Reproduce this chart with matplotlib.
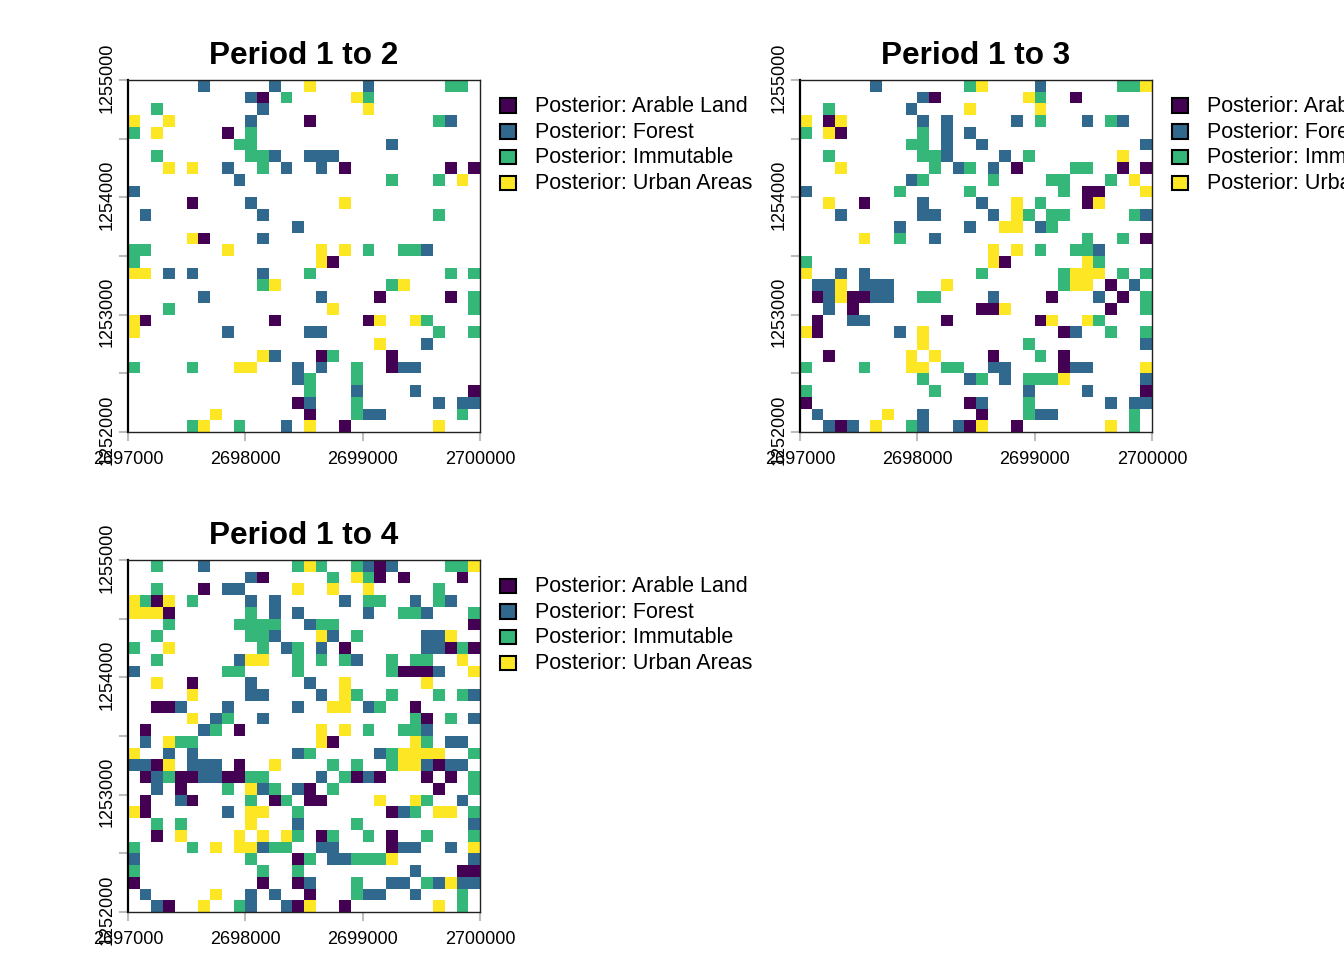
import numpy as np
import matplotlib
matplotlib.use("Agg")
import matplotlib.pyplot as plt
from matplotlib.colors import ListedColormap
from matplotlib.patches import Rectangle
from matplotlib.transforms import ScaledTranslation

plt.rcParams['font.family'] = ['Liberation Sans', 'DejaVu Sans']

classes = ["Arable Land", "Forest", "Immutable", "Urban Areas"]
codes = "AFIU"
colors = ["#440154", "#31688E", "#35B779", "#FDE725"]
titles = ["Period 1 to 2", "Period 1 to 3", "Period 1 to 4"]
x_ticks = [2697000, 2698000, 2699000, 2700000]
y_ticks = [1252000, 1252500, 1253000, 1253500, 1254000, 1254500, 1255000]
y_labels = ["1252000", "", "1253000", "", "1254000", "", "1255000"]

# one string per raster row from the top, "<column><class>" for each changed cell
period_2 = [
    "6F 12F 15U 20F 27I 28I",
    "10F 11A 13I 19U 20I",
    "2I 11F 20U",
    "0U 3U 10F 15A 26I 27F",
    "0I 2U 8A 10I",
    "9I 10I 22F",
    "2I 10I 11I 12F 15F 16F 17F",
    "3U 5U 8F 11I 13F 16F 18A 27A 29A",
    "9F 22I 26I 28U",
    "0F",
    "5A 10F 18U",
    "1F 11F 26I",
    "14F",
    "5U 6A 11F",
    "0I 1I 8U 16U 18U 20I 23I 24I 25F",
    "0I 16U 17A",
    "0U 1U 3F 5F 11F 15I 27I 29I",
    "11I 12U 22I 23U",
    "6F 16F 21A 27A 29I",
    "3I 17U 29I",
    "0U 1A 12A 20A 21U 24U 25I",
    "0U 8F 15F 16F 26I 29I",
    "21U 25F",
    "11U 12F 16A 17I 22A",
    "0I 5I 9U 10U 14F 16F 19I 22A 23F 24F",
    "14F 15I 19I",
    "15I 19F 24F 29A",
    "14A 15F 19I 26F 28F 29F",
    "7U 15A 19I 20F 21F 28I",
    "5I 6U 9I 13F 15U 18A 26U",
]
period_3 = [
    "6F 14I 15U 20F 27I 28I 29U",
    "10F 11A 19U 20I 23A",
    "2I 9F 14U 20U",
    "0U 2A 3U 10F 12F 18F 20I 24F 26I 27F",
    "0I 2U 3A 10I 12F 14F",
    "9I 10I 12F 15F 29F",
    "2I 10I 11I 12F 17F 19I 27U",
    "3U 11I 13F 14I 16F 18A 23I 24I 27A 29A",
    "9F 10I 16I 21I 22I 26I 28U",
    "0F 8I 14I 22I 24A 25A 29U",
    "2U 5A 10F 15F 18U 20I 24A 25U",
    "3F 10F 11F 16F 18U 19I 21I 22I 28I 29F",
    "8F 14F 17U 18U 20F 21I",
    "5U 8I 11F 24I 27I 29A",
    "16U 18U 20I 23I 24I 25F",
    "0I 16U 17A 24U 25I",
    "0U 3F 5F 15I 22I 23U 24U 25U 27I 29I",
    "1F 2F 3U 5F 6F 7F 12U 22I 23U 24U 26A 28F",
    "1A 2F 3U 4A 5A 6F 7F 10I 11I 16F 21A 25F 27A 29I",
    "2F 4A 15A 16A 17U 26A 29I",
    "1A 4F 5F 12A 20A 21U 24U 25I",
    "0U 1A 8F 10U 22A 23F 26I 29I",
    "10U 19I 29F",
    "2A 9U 11U 16A 20I 22A",
    "0I 5I 9U 10U 12I 13I 16F 17F 22A 23F 24F 29U",
    "10I 14F 15I 17F 19I 20I 21I 22U 29F",
    "0I 11I 19F 24F 29A",
    "0A 14A 15F 19I 26F 28F 29F",
    "1F 7U 10F 15A 19I 20F 21F 28I",
    "2F 3A 4F 6U 9I 10F 13F 14A 15U 18A 26U 28I",
]
period_4 = [
    "2I 6F 14I 15U 16I 19I 20F 21A 22F 27I 28I 29U",
    "10F 11A 17I 19U 20I 21A 23A 28A",
    "2I 6A 8F 9F 14U 17U 20U 26I",
    "0U 1I 2A 3U 5I 10F 12F 18F 20I 21I 24F 26I 27F",
    "0U 1U 2U 3A 10I 12F 14F 20F 23I 24I 25F 29I",
    "3I 9I 10I 11I 12I 15F 16I 17I 29A",
    "2I 10I 11I 12F 16U 17F 19I 25F 26F 27U",
    "0I 3U 11I 13F 14I 16F 18A 25F 26F 27A 28I 29A",
    "2I 9F 10U 11U 14I 16I 18I 19F 22I 24I 25I 28U",
    "0F 8I 9I 14I 22I 23A 24A 25A 26F 29U",
    "2U 5A 10F 15F 18U 25U",
    "5U 10F 11F 16F 18U 19I 22I 26I 28I 29F",
    "2A 3A 4F 8F 14F 17U 18U 20F 21I 24A",
    "5U 7F 8I 11F 24I 25A 27I 29F",
    "1A 6F 7I 9A 16U 18U 20I 23I 24I 25F",
    "1F 3U 4I 5I 16U 17A 24U 25I 27F 28F",
    "0U 3F 5F 14F 15I 21F 22I 23U 24U 25U 26U 29I",
    "0F 1F 2A 3U 5F 6F 7F 9A 12U 17I 19I 22I 23U 24U 25F 26A 27F 28F",
    "1A 2F 3I 4A 5A 6F 7F 8A 9A 10I 11I 16F 18I 19A 20F 21A 25A 27A 29I",
    "2F 4A 8I 10U 11F 12I 14F 15A 17I 26A 29I",
    "1A 4F 5A 10I 12A 13I 15A 16A 21U 24U 25I 28F",
    "0U 1A 8F 10U 11U 14I 22A 23F 24I 26U 27U 29I",
    "2I 4I 10U 14F 19I 29F",
    "2A 4U 9U 11U 13U 14I 16A 17I 20I 22A 25I 29I",
    "0I 5I 7U 9U 10U 11F 12I 13I 16F 17F 22A 23F 24F 27F 29U",
    "0F 10I 14A 15I 17F 18F 19I 20I 21I 22U 29F",
    "0I 11I 14I 24F 28A 29A",
    "0A 11A 14A 15F 19I 22F 23F 25I 26F 27U 28F 29F",
    "1F 7U 10F 12F 15A 19I 20F 21F 24F 28I",
    "2F 3A 6U 9I 10F 13F 14A 15U 18A 26U 28I",
]
periods = [period_2, period_3, period_4]

W, H = 1344, 960
cmap = ListedColormap(colors)


def to_grid(rows):
    grid = np.full((30, 30), np.nan)
    for r, row in enumerate(rows):
        for cell in row.split():
            grid[r, int(cell[:-1])] = codes.index(cell[-1])
    return grid


def draw_panel(fig, rows, title, left, top):
    ax = fig.add_axes([left / W, 1 - (top + 352) / H, 352 / W, 352 / H])
    xs = np.linspace(x_ticks[0], x_ticks[-1], 31)
    ys = np.linspace(y_ticks[-1], y_ticks[0], 31)
    ax.pcolormesh(xs, ys, to_grid(rows), cmap=cmap, vmin=-0.5, vmax=3.5,
                  antialiased=False, linewidth=0)
    ax.set_xlim(x_ticks[0], x_ticks[-1])
    ax.set_ylim(y_ticks[0], y_ticks[-1])
    ax.set_xticks(x_ticks, [str(t) for t in x_ticks])
    ax.set_yticks(y_ticks, y_labels, rotation=90, va="center")
    ax.tick_params(axis="both", length=6.5, width=1.5, color="#bdbdbd",
                   labelsize=13, pad=7.5, labelcolor="black")
    ax.tick_params(axis="y", pad=2.5)
    # rotated labels came out a little low, nudge them onto their ticks
    nudge = ScaledTranslation(0, 2.5 / 100, fig.dpi_scale_trans)
    for label in ax.get_yticklabels():
        label.set_transform(label.get_transform() + nudge)
    for name in ax.spines:
        ax.spines[name].set_linewidth(1.0)
        ax.spines[name].set_color("#222222")
    ax.spines["left"].set_linewidth(1.6)
    ax.spines["left"].set_color("black")
    ax.set_title(title, fontsize=22.7, fontweight="bold", pad=11.5)

    # legend sits just right of the raster, drawn by hand to hit the spacing
    for i, name in enumerate(classes):
        cy = top + 25.5 + i * 25.7
        fig.add_artist(Rectangle(((left + 372) / W, 1 - (cy + 7.5) / H), 15.5 / W, 14.5 / H,
                                 transform=fig.transFigure, facecolor=colors[i],
                                 edgecolor="black", linewidth=1.5))
        fig.text((left + 407) / W, 1 - (cy + 1) / H, "Posterior: " + name,
                 fontsize=15.5, va="center", ha="left")


fig = plt.figure(figsize=(W / 100, H / 100), dpi=100)
draw_panel(fig, periods[0], titles[0], 128, 80)
draw_panel(fig, periods[1], titles[1], 800, 80)
draw_panel(fig, periods[2], titles[2], 128, 560)
fig.savefig("out.png", dpi=100)
